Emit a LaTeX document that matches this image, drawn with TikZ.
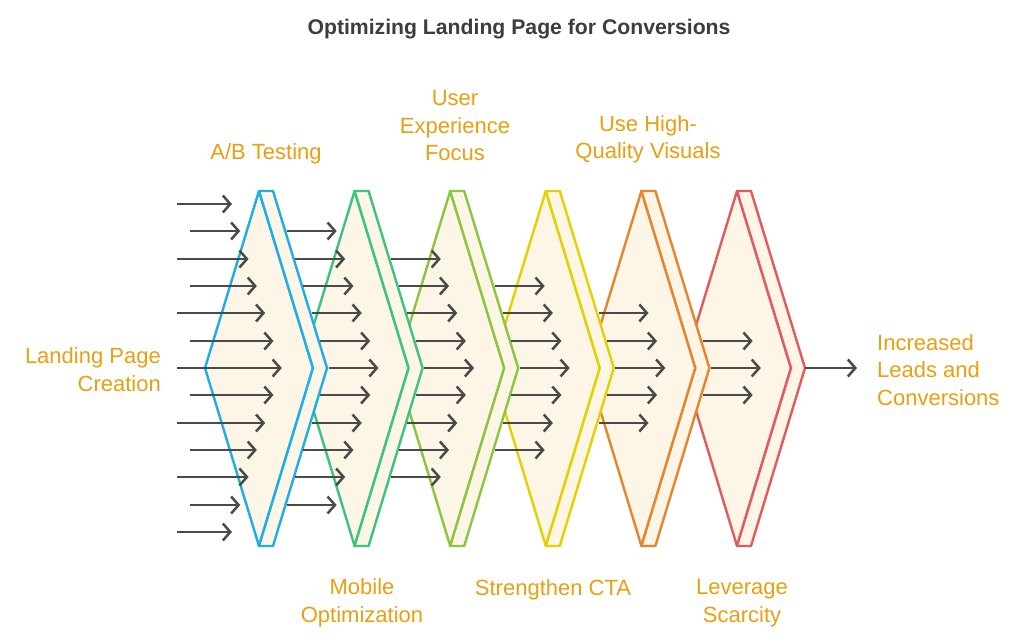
\documentclass[tikz,border=0pt]{standalone}
\usepackage{fontspec}
\setmainfont{Liberation Sans}
\usetikzlibrary{arrows.meta}
\definecolor{cream}{HTML}{FDF5E6}
\definecolor{cblue}{HTML}{1DAEE3}
\definecolor{cgreen}{HTML}{3CC47D}
\definecolor{clime}{HTML}{8CC63F}
\definecolor{cyellow}{HTML}{E5D000}
\definecolor{corange}{HTML}{E5862E}
\definecolor{cred}{HTML}{E25B5B}
\definecolor{labelc}{HTML}{E8A010}
\definecolor{arrowc}{HTML}{4A4A4A}
\definecolor{titlec}{HTML}{3D3D3D}
\begin{document}
\begin{tikzpicture}[x=1pt,y=-1pt,
  chev/.style={fill=cream, line width=2.4pt, line join=round},
  flowarrow/.style={draw=arrowc, line width=2.5pt, -{Straight Barb[length=7.5pt,width=17pt]}},
  lbl/.style={text=labelc, font=\fontsize{22}{27.5}\selectfont, inner sep=0pt, align=center},
  titlestyle/.style={text=titlec, font=\fontsize{21.2}{25}\selectfont\bfseries, inner sep=0pt},
]
\useasboundingbox[fill=white] (0,0) rectangle (1024,642);
% chevrons, back to front
\foreach \i/\c in {5/cred,4/corange,3/cyellow,2/clime,1/cgreen,0/cblue}{
  \pgfmathsetmacro{\xo}{259+95.6*\i}
  \draw[chev, draw=\c] (\xo,191) -- (\xo-54,368) -- (\xo,546) -- (\xo+54,368) -- cycle;
  \draw[chev, draw=\c] (\xo,191) -- (\xo+14,191) -- (\xo+68,368) -- (\xo+14,546) -- (\xo,546) -- (\xo+54,368) -- cycle;
}
% first column of arrows
\foreach \k in {0,...,12}{
  \pgfmathsetmacro{\yy}{round(204+27.33*\k)}
  \pgfmathsetmacro{\xs}{ifthenelse(mod(\k,2)==0,177,190)}
  \pgfmathsetmacro{\xe}{232+8.3*(6-abs(\k-6))}
  \draw[flowarrow] (\xs,\yy) -- (\xe,\yy);
}
% later columns
\foreach \i in {0,...,4}{
  \pgfmathtruncatemacro{\ka}{\i+1}
  \pgfmathtruncatemacro{\kb}{11-\i}
  \foreach \k in {\ka,...,\kb}{
    \pgfmathsetmacro{\yy}{round(204+27.33*\k)}
    \pgfmathsetmacro{\xs}{259+95.6*\i+14+54*(1-abs(\yy-368)/177)+1.5}
    \draw[flowarrow] (\xs,\yy) -- ++(50,0);
  }
}
\coordinate (redtip) at (805,368);
\coordinate (outend) at (857,368);
\draw[flowarrow] (redtip) -- (outend);
% labels
\node[titlestyle] (title) at (519,29.5) {Optimizing Landing Page for Conversions};
\node[lbl] (ab) at (266,153.5) {A/B Testing};
\node[lbl] (ux) at (455,126) {User\\Experience\\Focus};
\node[lbl] (vis) at (648,139.5) {Use High-\\Quality Visuals};
\node[lbl] (mob) at (362,603) {Mobile\\Optimization};
\node[lbl] (cta) at (553,589.5) {Strengthen CTA};
\node[lbl] (scar) at (742,603) {Leverage\\Scarcity};
\node[lbl, anchor=east, align=right] (lp) at (161,369.5) {Landing Page\\Creation};
\node[lbl, anchor=west, align=left] (out) at (877,370) {Increased\\Leads and\\Conversions};
\end{tikzpicture}
\end{document}
